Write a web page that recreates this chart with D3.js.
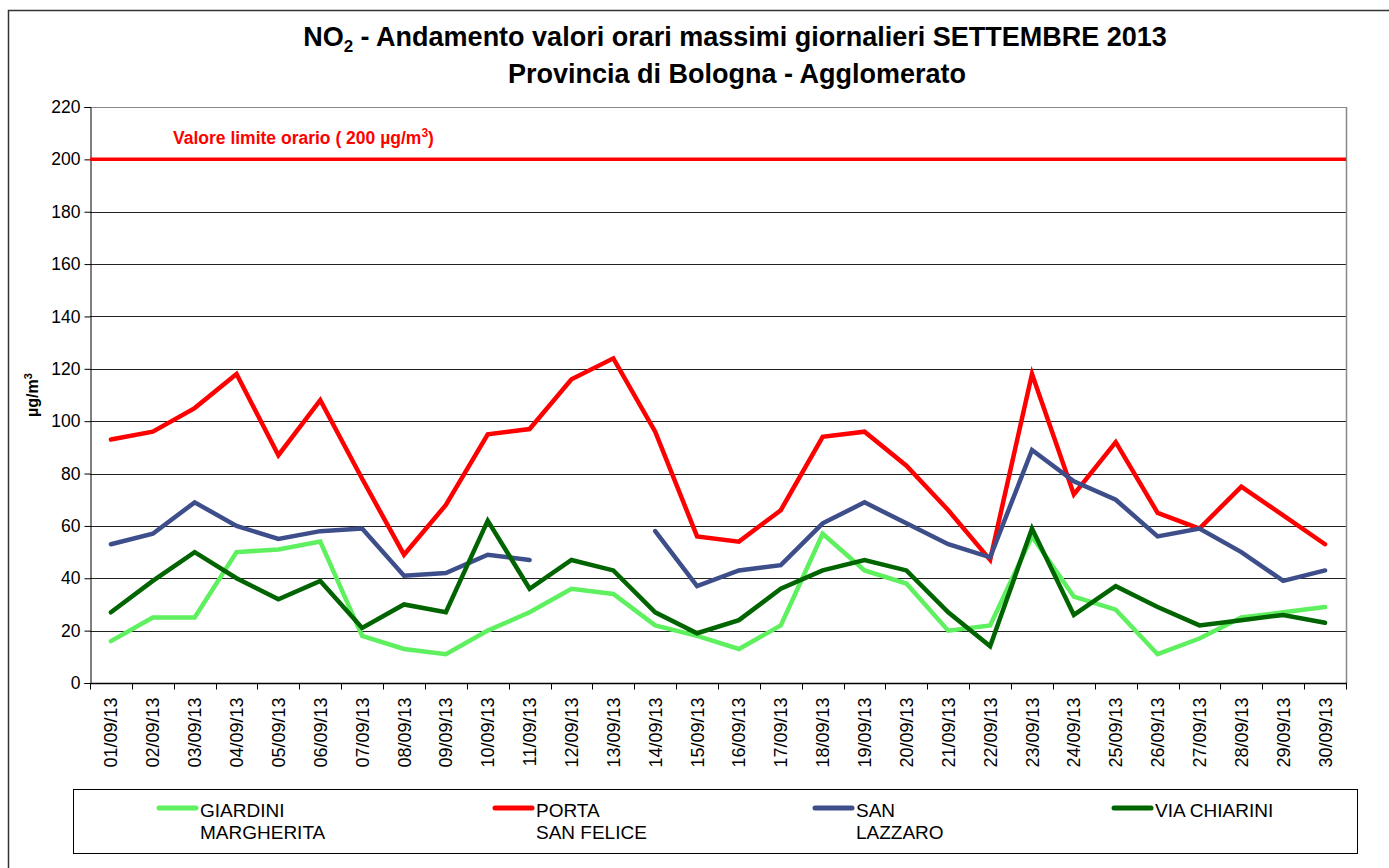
<!DOCTYPE html>
<html>
<head>
<meta charset="utf-8">
<script src="https://cdn.jsdelivr.net/npm/d3@7"></script>
<style>
  body { margin: 0; background: #fff; }
  svg text { font-family: "Liberation Sans", Arial, sans-serif; }
</style>
</head>
<body>
<div id="chart"></div>
<script>
// data
const days = ["01/09/13","02/09/13","03/09/13","04/09/13","05/09/13","06/09/13","07/09/13","08/09/13","09/09/13","10/09/13",
              "11/09/13","12/09/13","13/09/13","14/09/13","15/09/13","16/09/13","17/09/13","18/09/13","19/09/13","20/09/13",
              "21/09/13","22/09/13","23/09/13","24/09/13","25/09/13","26/09/13","27/09/13","28/09/13","29/09/13","30/09/13"];
const giardini = [16,25,25,50,51,54,18,13,11,20,27,36,34,22,18,13,22,57,43,38,20,22,56,33,28,11,17,25,27,29];
const portaSanFelice = [93,96,105,118,87,108,78,49,68,95,97,116,124,96,56,54,66,94,96,83,66,47,118,72,92,65,59,75,64,53];
const sanLazzaro = [53,57,69,60,55,58,59,41,42,49,47,null,null,58,37,43,45,61,69,61,53,48,89,77,70,56,59,50,39,43];
const viaChiarini = [27,39,50,40,32,39,21,30,27,62,36,47,43,27,19,24,36,43,47,43,27,14,59,26,37,29,22,24,26,23];
const yTicks = [0,20,40,60,80,100,120,140,160,180,200,220];
const limitValue = 200;

const series = [
    { name: ["GIARDINI", "MARGHERITA"], values: giardini, color: "#5ef05e", lx: 157 },
    { name: ["PORTA", "SAN FELICE"], values: portaSanFelice, color: "#ff0000", lx: 493 },
    { name: ["SAN", "LAZZARO"], values: sanLazzaro, color: "#3d4e8a", lx: 813 },
    { name: ["VIA CHIARINI"], values: viaChiarini, color: "#006400", lx: 1112 }
];

const width = 1389, height = 868;
const plotLeft = 90, plotRight = 1346, plotTop = 107, plotBottom = 683;

const svg = d3.select("#chart").append("svg")
    .attr("width", width)
    .attr("height", height);

// outer frame
svg.append("rect")
    .attr("x", 8.5).attr("y", 10.5)
    .attr("width", 1420).attr("height", 900)
    .attr("fill", "none").attr("stroke", "#333").attr("stroke-width", 1.5);

const x = d3.scaleBand().domain(days).range([plotLeft, plotRight]);
const y = d3.scaleLinear().domain([0, 220]).range([plotBottom, plotTop]);

// title
const title = svg.append("text")
    .attr("x", 735).attr("y", 46)
    .attr("text-anchor", "middle")
    .style("font-weight", "bold")
    .style("font-size", "27px");
title.append("tspan").text("NO");
title.append("tspan").attr("dy", 6).style("font-size", "17px").text("2");
title.append("tspan").attr("dy", -6).text(" - Andamento valori orari massimi giornalieri SETTEMBRE 2013");

svg.append("text")
    .attr("x", 737).attr("y", 83)
    .attr("text-anchor", "middle")
    .style("font-weight", "bold")
    .style("font-size", "27px")
    .text("Provincia di Bologna - Agglomerato");

// gridlines
svg.append("g")
    .selectAll("line")
    .data(yTicks.filter(d => d > 0))
    .enter().append("line")
    .attr("x1", plotLeft).attr("x2", plotRight)
    .attr("y1", d => Math.round(y(d)) + 0.5).attr("y2", d => Math.round(y(d)) + 0.5)
    .attr("stroke", d => d === 220 ? "#888" : "#222")
    .attr("stroke-width", 1);

// right border of plot
svg.append("line")
    .attr("x1", plotRight + 0.5).attr("x2", plotRight + 0.5)
    .attr("y1", plotTop).attr("y2", plotBottom)
    .attr("stroke", "#888").attr("stroke-width", 1.5);

// y axis
const yAxis = svg.append("g")
    .attr("transform", "translate(" + (plotLeft + 0.5) + ",0)")
    .call(d3.axisLeft(y).tickValues(yTicks).tickSize(6).tickPadding(4));
yAxis.select(".domain").attr("stroke", "#000");
yAxis.selectAll("text")
    .style("font-size", "17.5px")
    .attr("fill", "#000");

// x axis: ticks on band edges
const xAxis = svg.append("g")
    .attr("transform", "translate(0," + (plotBottom + 0.5) + ")");
xAxis.append("line")
    .attr("x1", plotLeft).attr("x2", plotRight + 1)
    .attr("stroke", "#000").attr("stroke-width", 1.5);
xAxis.selectAll(".tick")
    .data(days.concat(["end"]))
    .enter().append("line")
    .attr("class", "tick")
    .attr("x1", (d, i) => Math.round(plotLeft + i * x.bandwidth()) + 0.5)
    .attr("x2", (d, i) => Math.round(plotLeft + i * x.bandwidth()) + 0.5)
    .attr("y1", 0).attr("y2", 6)
    .attr("stroke", "#000");
xAxis.selectAll("text")
    .data(days)
    .enter().append("text")
    .attr("transform", d => "translate(" + (x(d) + x.bandwidth() / 2 + 6.5) + ",14) rotate(-90)")
    .attr("text-anchor", "end")
    .style("font-size", "18px")
    .text(d => d);

// y axis title
const yTitle = svg.append("text")
    .attr("transform", "translate(38,395) rotate(-90)")
    .attr("text-anchor", "middle")
    .style("font-weight", "bold")
    .style("font-size", "16px");
yTitle.append("tspan").text("µg/m");
yTitle.append("tspan").attr("dy", -6).style("font-size", "11px").text("3");

// limit line
svg.append("line")
    .attr("x1", plotLeft).attr("x2", plotRight)
    .attr("y1", y(limitValue)).attr("y2", y(limitValue))
    .attr("stroke", "#ff0000").attr("stroke-width", 3.5);

const limitLabel = svg.append("text")
    .attr("x", 173).attr("y", 144)
    .attr("fill", "#ff0000")
    .style("font-weight", "bold")
    .style("font-size", "17.5px");
limitLabel.append("tspan").text("Valore limite orario ( 200 µg/m");
limitLabel.append("tspan").attr("dy", -7).style("font-size", "12px").text("3");
limitLabel.append("tspan").attr("dy", 7).text(")");

// series lines
const line = d3.line()
    .defined(d => d != null)
    .x((d, i) => x(days[i]) + x.bandwidth() / 2)
    .y(d => y(d));

svg.append("g")
    .selectAll("path")
    .data(series)
    .enter().append("path")
    .attr("d", d => line(d.values))
    .attr("fill", "none")
    .attr("stroke", d => d.color)
    .attr("stroke-width", 4.5)
    .attr("stroke-linejoin", "miter")
    .attr("stroke-linecap", "round");

// legend
svg.append("rect")
    .attr("x", 73.5).attr("y", 789.5)
    .attr("width", 1284).attr("height", 64)
    .attr("fill", "none").attr("stroke", "#000").attr("stroke-width", 1);

const legend = svg.append("g")
    .selectAll("g")
    .data(series)
    .enter().append("g")
    .attr("transform", d => "translate(" + d.lx + ",0)");

legend.append("line")
    .attr("x1", 2).attr("x2", 39)
    .attr("y1", 808).attr("y2", 808)
    .attr("stroke", d => d.color)
    .attr("stroke-width", 5)
    .attr("stroke-linecap", "round");

legend.append("text")
    .attr("x", 43).attr("y", 817)
    .style("font-size", "19px")
    .each(function (d) {
        const t = d3.select(this);
        d.name.forEach(function (s, i) {
            t.append("tspan").attr("x", 43).attr("dy", i === 0 ? 0 : 22).text(s);
        });
    });
</script>
</body>
</html>
